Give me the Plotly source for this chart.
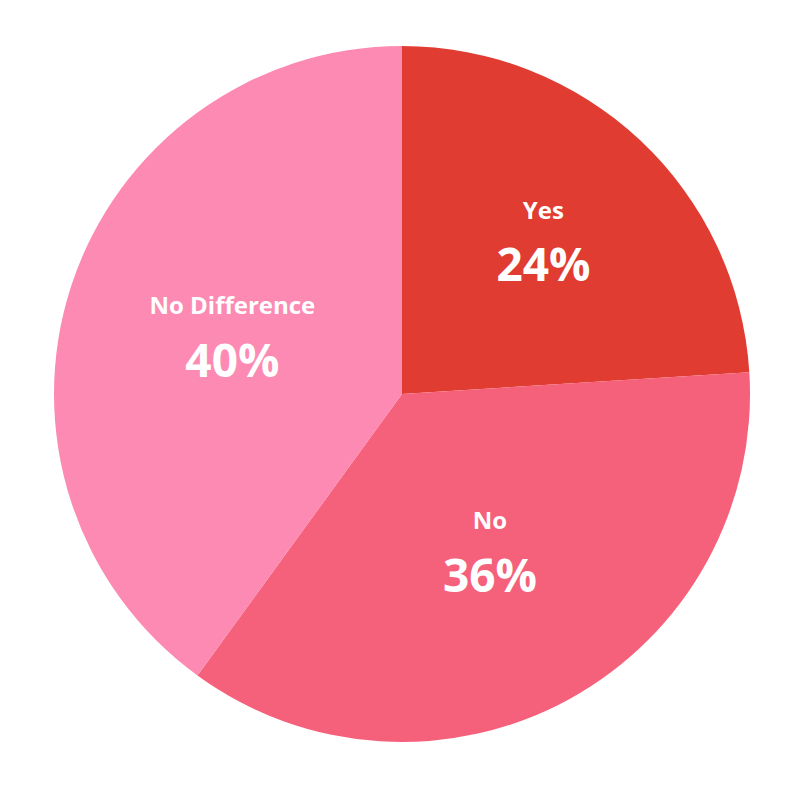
import plotly.graph_objects as go

labels = ["Yes", "No", "No Difference"]
values = [24, 36, 40]
colors = ["#E03C31", "#F5607A", "#FC8AB3"]

fig = go.Figure(go.Pie(
    labels=labels,
    values=values,
    sort=False,
    direction="clockwise",
    rotation=0,
    marker=dict(colors=colors, line=dict(width=0)),
    textposition="inside",
    insidetextorientation="horizontal",
    texttemplate="<b><span style='font-size:24px'>%{label}</span></b><br><b><span style='font-size:46px'>%{percent:.0%}</span></b>",
    textfont=dict(family="Open Sans, sans-serif", color="white", size=48),
    hoverinfo="skip",
    showlegend=False,
    domain=dict(x=[0.0575, 0.9275], y=[0.0825, 0.9525]),
))
fig.update_layout(
    width=800, height=800,
    margin=dict(l=0, r=0, t=0, b=0),
    paper_bgcolor="white",
    plot_bgcolor="white",
)
fig.write_html("out.html")
